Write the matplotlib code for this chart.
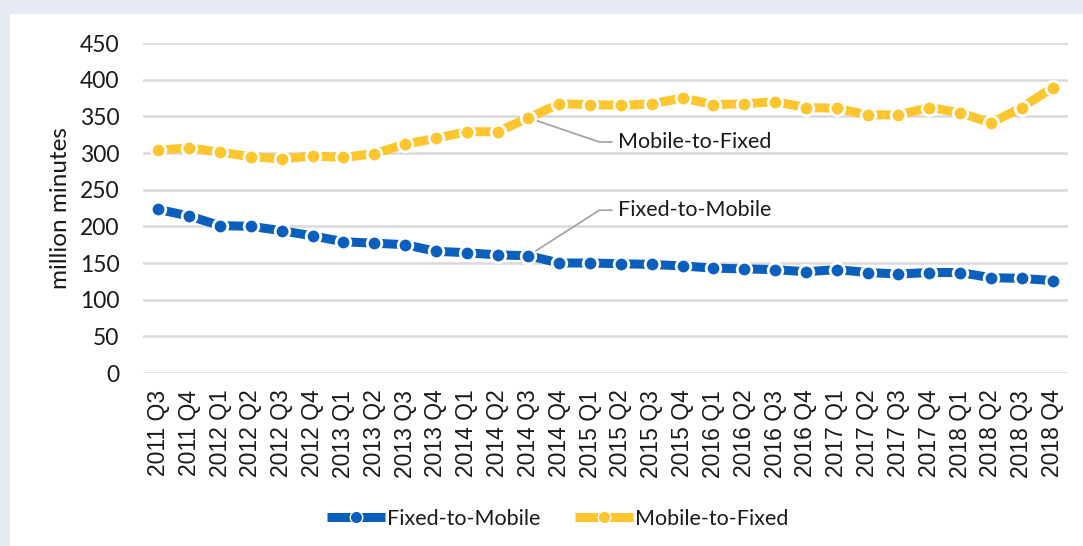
import matplotlib
matplotlib.use("Agg")
import matplotlib.pyplot as plt
from matplotlib.patches import Rectangle

quarters = [
    "2011 Q3", "2011 Q4",
    "2012 Q1", "2012 Q2", "2012 Q3", "2012 Q4",
    "2013 Q1", "2013 Q2", "2013 Q3", "2013 Q4",
    "2014 Q1", "2014 Q2", "2014 Q3", "2014 Q4",
    "2015 Q1", "2015 Q2", "2015 Q3", "2015 Q4",
    "2016 Q1", "2016 Q2", "2016 Q3", "2016 Q4",
    "2017 Q1", "2017 Q2", "2017 Q3", "2017 Q4",
    "2018 Q1", "2018 Q2", "2018 Q3", "2018 Q4",
]
fixed_to_mobile = [
    223, 214, 201, 200, 194, 187, 179, 177, 175, 166,
    164, 161, 160, 150, 150, 149, 148, 146, 143, 142,
    141, 138, 141, 137, 135, 137, 137, 130, 129, 126,
]
mobile_to_fixed = [
    304, 307, 301, 295, 292, 296, 294, 299, 312, 320,
    329, 329, 348, 367, 366, 365, 367, 375, 366, 367,
    370, 362, 361, 352, 352, 362, 355, 341, 362, 389,
]
yticks = list(range(0, 451, 50))

BLUE = "#0a5fbd"
YELLOW = "#ffc52e"
GRID = "#d9d9d9"
INK = "#1a1a1a"
LABEL_FONT = ["Lato", "DejaVu Sans"]
TICK_FONT = ["Liberation Sans", "DejaVu Sans"]

fig = plt.figure(figsize=(10.83, 5.46), dpi=100)
fig.patch.set_facecolor("#e5eaf3")
fig.patches.append(Rectangle((10 / 1083, 0), 1, 1 - 14 / 546,
                             transform=fig.transFigure, facecolor="white",
                             edgecolor="none", zorder=-1))

ax = fig.add_axes([143 / 1083, 1 - 373 / 546, (1068 - 143) / 1083, 330 / 546])
ax.set_facecolor("none")
x = list(range(len(quarters)))

line_kw = dict(lw=6.5, marker="o", markersize=10.5, markeredgecolor="white",
               markeredgewidth=2.0, solid_capstyle="butt", zorder=3)
ax.plot(x, fixed_to_mobile, color=BLUE, label="Fixed-to-Mobile", **line_kw)
ax.plot(x, mobile_to_fixed, color=YELLOW, label="Mobile-to-Fixed", **line_kw)

ax.set_xlim(-0.5, len(quarters) - 0.5)
ax.set_ylim(0, 450)
ax.set_yticks(yticks)
ax.set_xticks(x)
ax.set_xticklabels(quarters, rotation=90, fontsize=16.5, family=TICK_FONT,
                   color=INK)
ax.set_yticklabels([str(v) for v in yticks], fontsize=16.5, family=LABEL_FONT,
                   color=INK)
ax.tick_params(axis="x", length=0, pad=12)
ax.tick_params(axis="y", length=0, pad=17)
ax.grid(axis="y", color=GRID, lw=1.8)
ax.set_axisbelow(True)
for s in ax.spines.values():
    s.set_visible(False)

ax.set_ylabel("million minutes", fontsize=17.5, family=LABEL_FONT,
              color=INK, labelpad=6)

# leader lines to the series labels
i = quarters.index("2014 Q3")
ax.plot([i, 14.3, 14.7], [mobile_to_fixed[i], 315, 315], color="#a6a6a6",
        lw=1.3, zorder=2)
ax.text(14.9, 315, "Mobile-to-Fixed", fontsize=15.5, family=LABEL_FONT,
        color=INK, va="center", ha="left")
ax.plot([i, 14.3, 14.7], [fixed_to_mobile[i], 222, 222], color="#a6a6a6",
        lw=1.3, zorder=2)
ax.text(14.9, 222, "Fixed-to-Mobile", fontsize=15.5, family=LABEL_FONT,
        color=INK, va="center", ha="left")

leg = fig.legend(loc="center", bbox_to_anchor=(0.515, 1 - 519 / 546), ncol=2,
                 frameon=False, handlelength=2.7, handletextpad=0.1,
                 columnspacing=1.6, prop={"family": LABEL_FONT, "size": 15.5})
for h in leg.legend_handles:
    h.set_markersize(9)
    h.set_markeredgewidth(1.0)
for t in leg.get_texts():
    t.set_color(INK)

fig.savefig("out.png", dpi=100, facecolor=fig.get_facecolor())
